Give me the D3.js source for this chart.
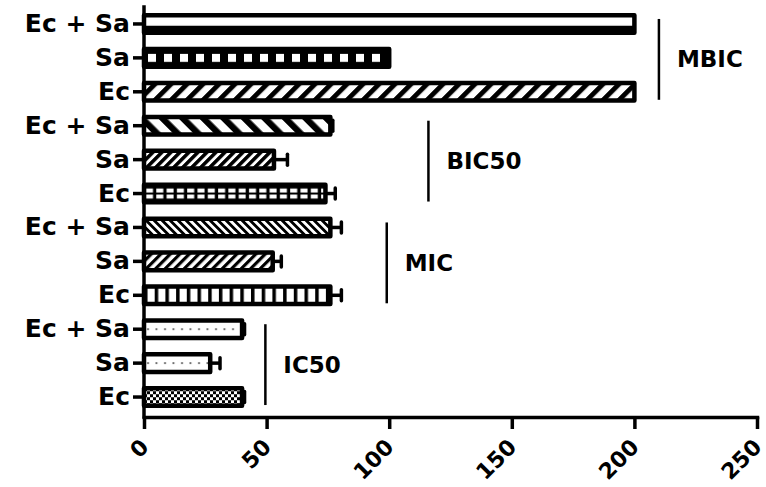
<!DOCTYPE html>
<html>
<head>
<meta charset="utf-8">
<script src="https://cdn.jsdelivr.net/npm/d3@7"></script>
<style>
  body { margin: 0; background: #fff; }
  text { font-family: 'DejaVu Sans', 'Liberation Sans', Arial, sans-serif; font-weight: bold; }
</style>
</head>
<body>
<div id="chart"></div>
<script>
// assays top to bottom, strains top to bottom inside each assay
const assays = ['MBIC', 'BIC50', 'MIC', 'IC50'];
const strains = ['Ec + Sa', 'Sa', 'Ec'];

const mbicValues = [200, 100, 200];
const mbicErrors = [0, 0, 0];
const bic50Values = [76, 53, 74];
const bic50Errors = [1, 5.5, 4];
const micValues = [76, 52.5, 76];
const micErrors = [4.5, 3.5, 4.5];
const ic50Values = [40, 27, 40];
const ic50Errors = [1, 4, 1];

// x position (in data units) of the bracket next to each assay
const bracketAt = [210, 116, 99, 49.5];
const xTicks = [0, 50, 100, 150, 200, 250];

const valuesByAssay = [mbicValues, bic50Values, micValues, ic50Values];
const errorsByAssay = [mbicErrors, bic50Errors, micErrors, ic50Errors];

const rows = [];
assays.forEach((a, ai) => {
  strains.forEach((s, si) => {
    rows.push({ assay: a, strain: s, value: valuesByAssay[ai][si], err: errorsByAssay[ai][si] });
  });
});

// fill style for each bar, same order as rows
const fills = ['hbar', 'squares', 'diagUp', 'diagDownWide', 'diagUpFine', 'grid2',
  'diagDownFine', 'diagUpMed', 'vbars', 'dots', 'dots', 'checker'];

const width = 766;
const height = 487;
const axisY = 417;

const svg = d3.select('#chart')
  .append('svg')
  .attr('width', width)
  .attr('height', height);

const x = d3.scaleLinear().domain([0, 250]).range([144, 757]);

const y = d3.scaleBand()
  .domain(d3.range(rows.length))
  .range([7, 414])
  .paddingInner(0.48)
  .paddingOuter(0.24);

const defs = svg.append('defs');

function stripes(p, period, w, angle) {
  const t = period / Math.SQRT2;
  p.attr('width', t).attr('height', 10).attr('patternTransform', `rotate(${angle})`);
  p.append('rect').attr('width', t).attr('height', 10).attr('fill', '#fff');
  p.append('rect').attr('width', w / Math.SQRT2).attr('height', 10).attr('fill', '#000');
}

function makePattern(id, type, x0, y0, h) {
  const p = defs.append('pattern')
    .attr('id', id)
    .attr('patternUnits', 'userSpaceOnUse')
    .attr('x', x0)
    .attr('y', y0);
  switch (type) {
    case 'hbar':
      p.attr('width', 10).attr('height', h);
      p.append('rect').attr('width', 10).attr('height', h).attr('fill', '#fff');
      p.append('rect').attr('y', h * 0.6).attr('width', 10).attr('height', h * 0.4).attr('fill', '#000');
      break;
    case 'squares':
      p.attr('width', 16).attr('height', h);
      p.append('rect').attr('width', 16).attr('height', h).attr('fill', '#000');
      p.append('rect').attr('x', 4).attr('y', (h - 8) / 2).attr('width', 8).attr('height', 8).attr('fill', '#fff');
      break;
    case 'grid2':
      p.attr('width', 10.3).attr('height', h);
      p.append('rect').attr('width', 10.3).attr('height', h).attr('fill', '#000');
      p.append('rect').attr('x', 2).attr('y', h / 2 - 5).attr('width', 7).attr('height', 4).attr('fill', '#fff');
      p.append('rect').attr('x', 2).attr('y', h / 2 + 1).attr('width', 7).attr('height', 4).attr('fill', '#fff');
      break;
    case 'vbars':
      p.attr('width', 10.7).attr('height', h);
      p.append('rect').attr('width', 10.7).attr('height', h).attr('fill', '#fff');
      p.append('rect').attr('width', 3.5).attr('height', h).attr('fill', '#000');
      break;
    case 'dots':
      p.attr('width', 8.5).attr('height', h);
      p.append('rect').attr('width', 8.5).attr('height', h).attr('fill', '#fff');
      p.append('circle').attr('cx', 4).attr('cy', h / 2).attr('r', 1.1).attr('fill', '#555');
      break;
    case 'checker':
      p.attr('width', 6).attr('height', 6);
      p.append('rect').attr('width', 6).attr('height', 6).attr('fill', '#fff');
      p.append('rect').attr('width', 3).attr('height', 3).attr('fill', '#000');
      p.append('rect').attr('x', 3).attr('y', 3).attr('width', 3).attr('height', 3).attr('fill', '#000');
      break;
    case 'diagUp': stripes(p, 16, 7, 45); break;
    case 'diagDownWide': stripes(p, 20.5, 9, -45); break;
    case 'diagUpFine': stripes(p, 9, 5, 45); break;
    case 'diagDownFine': stripes(p, 8, 4, -45); break;
    case 'diagUpMed': stripes(p, 9.5, 4.5, 45); break;
  }
}

rows.forEach((d, i) => makePattern(`fill-${i}`, fills[i], x(0), y(i), y.bandwidth()));

// bars
svg.append('g')
  .selectAll('rect')
  .data(rows)
  .enter()
  .append('rect')
  .attr('x', x(0))
  .attr('y', (d, i) => y(i))
  .attr('width', (d) => x(d.value) - x(0))
  .attr('height', y.bandwidth())
  .attr('fill', (d, i) => `url(#fill-${i})`)
  .attr('stroke', '#000')
  .attr('stroke-width', 4.5)
  .attr('stroke-linejoin', 'round');

// error bars
const errs = svg.append('g').attr('stroke', '#000').attr('stroke-width', 3.5);
rows.forEach((d, i) => {
  if (!d.err) return;
  const cy = y(i) + y.bandwidth() / 2;
  errs.append('line')
    .attr('x1', x(d.value)).attr('x2', x(d.value + d.err))
    .attr('y1', cy).attr('y2', cy);
  errs.append('line')
    .attr('x1', x(d.value + d.err)).attr('x2', x(d.value + d.err))
    .attr('y1', cy - 5.5).attr('y2', cy + 5.5)
    .attr('stroke-linecap', 'round');
});

// axes
const yAxis = svg.append('g')
  .attr('transform', `translate(${x(0)},0)`)
  .call(d3.axisLeft(y).tickSize(11).tickPadding(3).tickFormat((i) => rows[i].strain));
yAxis.select('.domain').remove();
yAxis.selectAll('line').attr('stroke-width', 3.5);
yAxis.selectAll('text').style('font-size', '25px').attr('fill', '#000');

svg.append('line')
  .attr('x1', x(0)).attr('x2', x(0))
  .attr('y1', 7).attr('y2', axisY)
  .attr('stroke', '#000').attr('stroke-width', 3.5).attr('stroke-linecap', 'square');

const xAxis = svg.append('g')
  .attr('transform', `translate(0,${axisY})`)
  .call(d3.axisBottom(x).tickValues(xTicks).tickSize(12).tickSizeOuter(0));
xAxis.select('.domain').attr('stroke-width', 3.5).attr('stroke-linecap', 'square');
xAxis.selectAll('line').attr('stroke-width', 3.5);
xAxis.selectAll('text')
  .style('font-size', '22px')
  .attr('fill', '#000')
  .attr('text-anchor', 'end')
  .attr('dy', '0.7em')
  .attr('transform', 'translate(-16,10) rotate(-45)');

// assay brackets and labels
assays.forEach((a, ai) => {
  const top = y(ai * 3) + y.bandwidth() / 2 - 5;
  const bottom = y(ai * 3 + 2) + y.bandwidth() / 2 + 8;
  const bx = x(bracketAt[ai]);
  svg.append('line')
    .attr('x1', bx).attr('x2', bx)
    .attr('y1', top).attr('y2', bottom)
    .attr('stroke', '#000').attr('stroke-width', 2.5);
  svg.append('text')
    .attr('x', bx + 18)
    .attr('y', (top + bottom) / 2)
    .attr('dy', '0.35em')
    .style('font-size', '23px')
    .text(a);
});
</script>
</body>
</html>
